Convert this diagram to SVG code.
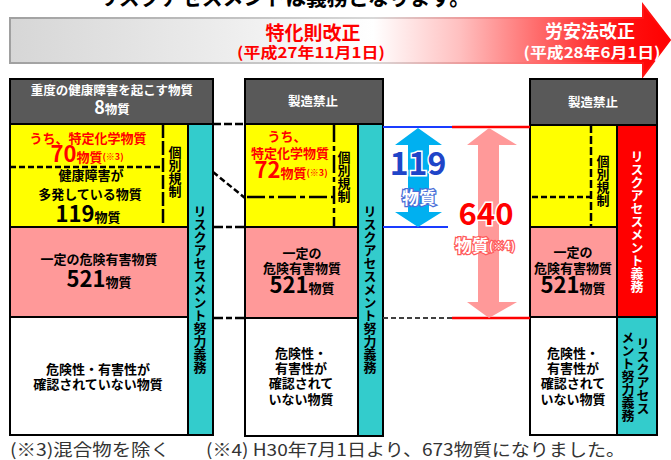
<svg xmlns="http://www.w3.org/2000/svg" width="671" height="460" viewBox="0 0 671 460">
<style>
text{font-family:"Noto Sans CJK JP","Noto Sans",sans-serif;font-weight:700;}
.w{fill:#ffffff;font-size:12.5px;}
.k{fill:#000000;font-size:13px;}
.r{fill:#ff0000;font-size:13px;}
.num{font-size:22px;}
.sup{font-size:9px;}
.v{writing-mode:vertical-rl;font-size:13px;}
.box{stroke:#000;stroke-width:2;}
.dark{fill:#595959;}
.yel{fill:#ffff00;}
.pink{fill:#ff9999;}
.wht{fill:#ffffff;}
.teal{fill:#33cccc;}
.red{fill:#ff0000;}
.dl{stroke:#000;stroke-width:2.5;fill:none;}
.foot{font-weight:400;fill:#333333;font-size:17px;}
</style>
<defs>
<linearGradient id="bg" x1="10" y1="0" x2="671" y2="0" gradientUnits="userSpaceOnUse">
<stop offset="0" stop-color="#d6d6d6"/>
<stop offset="0.3" stop-color="#ebebeb"/>
<stop offset="0.55" stop-color="#ffffff"/>
<stop offset="0.68" stop-color="#ffc0c0"/>
<stop offset="0.8" stop-color="#ff6a6a"/>
<stop offset="0.93" stop-color="#ff1010"/>
<stop offset="1" stop-color="#ff0000"/>
</linearGradient>
<linearGradient id="bs" x1="10" y1="0" x2="671" y2="0" gradientUnits="userSpaceOnUse">
<stop offset="0" stop-color="#a0a0a0"/>
<stop offset="0.55" stop-color="#d8d8d8"/>
<stop offset="0.8" stop-color="#ff6a6a"/>
<stop offset="1" stop-color="#ff0000"/>
</linearGradient>
</defs>

<g id="title">
<text x="98" y="5" fill="#000000" font-size="22" textLength="372" lengthAdjust="spacingAndGlyphs">リスクアセスメントは義務となります。</text>
</g>

<g id="banner">
<path d="M10,18 L643,18 L643,5 L670,40 L643,76 L643,63 L10,63 Z" fill="url(#bg)" stroke="url(#bs)" stroke-width="2"/>
<text x="313" y="40" text-anchor="middle" fill="#ff0000" font-size="19">特化則改正</text>
<text x="311" y="58" text-anchor="middle" fill="#ff0000" font-size="15" textLength="148" lengthAdjust="spacingAndGlyphs">(平成27年11月1日)</text>
<text x="590" y="38" text-anchor="middle" fill="#ffffff" font-size="18">労安法改正</text>
<text x="592" y="58" text-anchor="middle" fill="#ffffff" font-size="15" textLength="137" lengthAdjust="spacingAndGlyphs">(平成28年6月1日)</text>
</g>

<g id="col1">
<rect class="box dark" x="10" y="79" width="203" height="45"/>
<rect class="box yel" x="10" y="124" width="178" height="103"/>
<rect class="box pink" x="10" y="227" width="178" height="90"/>
<rect class="box wht" x="10" y="317" width="178" height="118"/>
<rect class="box teal" x="188" y="124" width="25" height="311"/>
<line class="dl" x1="163" y1="124" x2="163" y2="227" stroke-dasharray="14 3"/>
<line class="dl" x1="10" y1="167" x2="163" y2="167" stroke-dasharray="6 3"/>
<text class="w" x="112" y="95" text-anchor="middle">重度の健康障害を起こす物質</text>
<text class="w" x="112" y="114" text-anchor="middle"><tspan font-size="18">8</tspan>物質</text>
<text class="r" x="88" y="143" text-anchor="middle">うち、特定化学物質</text>
<text class="r" x="87" y="162" text-anchor="middle"><tspan class="num">70</tspan>物質<tspan class="sup" dy="-2">(※3)</tspan></text>
<text class="k" x="91" y="180" text-anchor="middle">健康障害が</text>
<text class="k" x="90" y="199" text-anchor="middle">多発している物質</text>
<text class="k" x="88" y="222" text-anchor="middle"><tspan class="num">119</tspan>物質</text>
<text class="k v" x="175" y="172" text-anchor="middle">個別規制</text>
<text class="k" x="99" y="264" text-anchor="middle">一定の危険有害物質</text>
<text class="k" x="99" y="287" text-anchor="middle"><tspan class="num">521</tspan>物質</text>
<text class="k" x="98" y="374" text-anchor="middle">危険性・有害性が</text>
<text class="k" x="98" y="389" text-anchor="middle">確認されていない物質</text>
<text class="k v" x="200" y="289" text-anchor="middle">リスクアセスメント努力義務</text>
</g>

<g id="col2">
<rect class="box dark" x="245" y="79" width="138" height="45"/>
<rect class="box yel" x="245" y="124" width="113" height="103"/>
<rect class="box pink" x="245" y="227" width="113" height="91"/>
<rect class="box wht" x="245" y="318" width="113" height="118"/>
<rect class="box teal" x="358" y="124" width="25" height="312"/>
<line class="dl" x1="334" y1="124" x2="334" y2="227" stroke-dasharray="18 4 5 4"/>
<line class="dl" x1="247" y1="197" x2="334" y2="197" stroke-dasharray="18 4 5 4"/>
<text class="w" x="313" y="106" text-anchor="middle">製造禁止</text>
<text class="r" x="287" y="141" text-anchor="middle">うち、</text>
<text class="r" x="290" y="158" text-anchor="middle">特定化学物質</text>
<text class="r" x="291" y="178" text-anchor="middle"><tspan class="num">72</tspan>物質<tspan class="sup" dy="-2">(※3)</tspan></text>
<text class="k v" x="344" y="177" text-anchor="middle">個別規制</text>
<text class="k" x="302" y="258" text-anchor="middle">一定の</text>
<text class="k" x="302" y="273" text-anchor="middle">危険有害物質</text>
<text class="k" x="302" y="293" text-anchor="middle"><tspan class="num">521</tspan>物質</text>
<text class="k" x="301" y="358" text-anchor="middle">危険性・</text>
<text class="k" x="301" y="373" text-anchor="middle">有害性が</text>
<text class="k" x="301" y="388" text-anchor="middle">確認されて</text>
<text class="k" x="301" y="404" text-anchor="middle">いない物質</text>
<text class="k v" x="370" y="289" text-anchor="middle">リスクアセスメント努力義務</text>
</g>

<g id="col3">
<rect class="box dark" x="530" y="79" width="127" height="46"/>
<rect class="box yel" x="530" y="125" width="87" height="102"/>
<rect class="box red" x="617" y="125" width="40" height="192"/>
<rect class="box pink" x="530" y="227" width="87" height="90"/>
<rect class="box wht" x="530" y="317" width="87" height="118"/>
<rect class="box teal" x="617" y="317" width="40" height="118"/>
<line class="dl" x1="591" y1="125" x2="591" y2="227" stroke-dasharray="8 3"/>
<line class="dl" x1="532" y1="197" x2="591" y2="197" stroke-dasharray="6 3"/>
<text class="w" x="593" y="107" text-anchor="middle">製造禁止</text>
<text class="k v" x="603" y="181" text-anchor="middle">個別規制</text>
<text class="v" x="637" y="221" text-anchor="middle" fill="#ffffff">リスクアセスメント義務</text>
<text class="k" x="573" y="257" text-anchor="middle">一定の</text>
<text class="k" x="573" y="273" text-anchor="middle">危険有害物質</text>
<text class="k" x="573" y="293" text-anchor="middle"><tspan class="num">521</tspan>物質</text>
<text class="k" x="573" y="358" text-anchor="middle">危険性・</text>
<text class="k" x="573" y="373" text-anchor="middle">有害性が</text>
<text class="k" x="573" y="388" text-anchor="middle">確認されて</text>
<text class="k" x="573" y="404" text-anchor="middle">いない物質</text>
<text class="k v" x="643" y="376" text-anchor="middle">リスクアセス</text>
<text class="k v" x="628" y="376" text-anchor="middle">メント努力義務</text>
</g>

<g id="connectors">
<line class="dl" x1="213" y1="124" x2="245" y2="124" stroke-dasharray="8 3"/>
<line class="dl" x1="213" y1="172" x2="245" y2="198" stroke-dasharray="6 3"/>
<line class="dl" x1="213" y1="227" x2="245" y2="227" stroke-dasharray="10 3 6 3"/>
<line class="dl" x1="213" y1="318" x2="245" y2="318" stroke-dasharray="10 3 6 3"/>
<line x1="383" y1="127" x2="452" y2="127" stroke="#1a3cff" stroke-width="2"/>
<line x1="452" y1="127" x2="530" y2="127" stroke="#ff0000" stroke-width="2.5"/>
<line x1="383" y1="227" x2="448" y2="227" stroke="#1a3cff" stroke-width="2"/>
<line x1="383" y1="318" x2="452" y2="318" stroke="#404040" stroke-width="2" stroke-dasharray="5 3"/>
<line x1="452" y1="318" x2="530" y2="318" stroke="#ff0000" stroke-width="2.5"/>
</g>

<g id="arrow119">
<path d="M418,128 L442,145 L429,145 L429,212 L442,212 L418,227 L395,212 L408,212 L408,145 L395,145 Z" fill="#00b0f0"/>
<text x="418" y="175" text-anchor="middle" font-size="32" fill="#1f45c8" stroke="#ffffff" stroke-width="3" paint-order="stroke" font-weight="400">119</text>
<text x="419" y="204" text-anchor="middle" font-size="17" fill="#ffffff" stroke="#4a6fd8" stroke-width="2.5" paint-order="stroke">物質</text>
</g>

<g id="arrow640">
<path d="M489,128 L517,145 L499,145 L499,302 L517,302 L489,318 L467,302 L478,302 L478,145 L467,145 Z" fill="#ff9999"/>
<text x="486" y="225" text-anchor="middle" font-size="31" fill="#ff0000" stroke="#ffffff" stroke-width="3" paint-order="stroke" font-weight="400">640</text>
<text x="485" y="252" text-anchor="middle" font-size="17" fill="#ffffff" stroke="#ff5a5a" stroke-width="2.5" paint-order="stroke">物質<tspan font-size="11" dy="-2">(※4)</tspan></text>
</g>

<g id="footnotes">
<text class="foot" x="10" y="456" textLength="160" lengthAdjust="spacingAndGlyphs">(※3)混合物を除く</text>
<text class="foot" x="206" y="456" textLength="419" lengthAdjust="spacingAndGlyphs">(※4) H30年7月1日より、673物質になりました。</text>
</g>
</svg>
